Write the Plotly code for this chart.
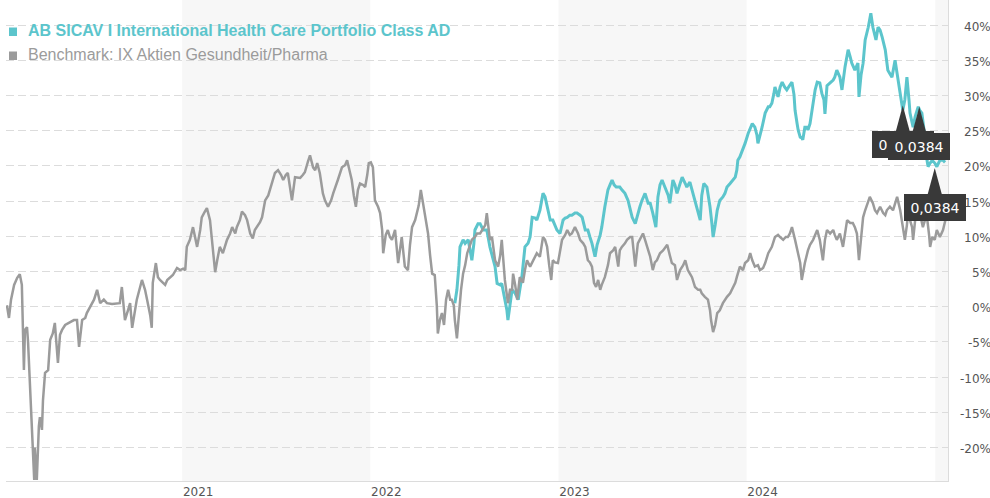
import pandas as pd
import plotly.graph_objects as go

# ---------------- data ----------------
ORIGIN = "2020-01-01"          # day numbers below count from this date

FUND_NAME = "AB SICAV I International Health Care Portfolio Class AD"
BENCH_NAME = "Benchmark: IX Aktien Gesundheit/Pharma"

bench_days = [
    26, 30, 34, 40, 46, 51, 55, 57, 59, 61,
    65, 67, 69, 73, 77, 79, 80, 84, 88, 90,
    94, 96, 100, 106, 110, 115, 119, 125, 129, 133,
    139, 148, 156, 162, 166, 172, 178, 181, 187, 195,
    201, 207, 214, 220, 230, 240, 245, 249, 255, 261,
    265, 269, 275, 278, 288, 294, 298, 304, 307, 309,
    315, 319, 323, 329, 333, 337, 342, 348, 356, 362,
    368, 372, 375, 381, 387, 395, 401, 404, 410, 414,
    420, 424, 428, 430, 434, 439, 445, 453, 459, 463,
    469, 472, 478, 482, 488, 492, 498, 503, 507, 511,
    517, 521, 527, 533, 536, 542, 546, 552, 558, 562,
    567, 571, 579, 585, 591, 595, 600, 604, 610, 614,
    620, 624, 628, 633, 639, 643, 649, 655, 659, 664,
    668, 676, 682, 686, 692, 695, 699, 703, 707, 711,
    717, 721, 725, 728, 732, 736, 740, 746, 750, 754,
    756, 761, 765, 769, 773, 779, 785, 789, 792, 798,
    804, 808, 812, 818, 822, 825, 829, 833, 837, 843,
    847, 851, 856, 860, 862, 866, 870, 874, 878, 882,
    886, 889, 893, 895, 899, 903, 907, 911, 915, 919,
    924, 928, 934, 938, 944, 948, 954, 957, 963, 967,
    973, 979, 983, 986, 992, 998, 1002, 1006, 1008, 1012,
    1016, 1021, 1027, 1031, 1035, 1041, 1047, 1054, 1060, 1066,
    1070, 1074, 1078, 1082, 1085, 1089, 1095, 1099, 1103, 1109,
    1113, 1118, 1122, 1128, 1134, 1138, 1144, 1148, 1153, 1157,
    1161, 1165, 1169, 1173, 1177, 1180, 1186, 1192, 1196, 1202,
    1206, 1212, 1215, 1219, 1225, 1229, 1235, 1239, 1245, 1250,
    1256, 1260, 1264, 1268, 1274, 1279, 1283, 1287, 1293, 1299,
    1307, 1312, 1316, 1322, 1326, 1332, 1338, 1342, 1347, 1351,
    1355, 1361, 1367, 1371, 1374, 1380, 1386, 1390, 1392, 1396,
    1400, 1404, 1409, 1415, 1419, 1423, 1429, 1435, 1439, 1442,
    1448, 1454, 1458, 1464, 1468, 1472, 1477, 1483, 1487, 1493,
    1497, 1503, 1510, 1516, 1522, 1526, 1532, 1537, 1541, 1545,
    1549, 1555, 1561, 1565, 1568, 1574, 1580, 1584, 1590, 1594,
    1598, 1603, 1609, 1613, 1617, 1623, 1629, 1632, 1636, 1642,
    1648, 1652, 1656, 1662, 1667, 1671, 1675, 1679, 1683, 1687,
    1691, 1695, 1700, 1706, 1710, 1714, 1720, 1726, 1730, 1733,
    1739, 1745, 1749, 1753, 1759, 1764, 1768, 1772, 1774, 1778,
    1782, 1784, 1788, 1792, 1797, 1803, 1807, 1811, 1815, 1817,
    1821, 1826, 1830, 1836, 1842, 1848,
]
bench_pct = [
    0.2, -1.6, 1.0, 3.1, 4.1, 4.6, 3.1, -2.0, -9.0, -3.3,
    -2.9, -5.0, -8.6, -15.1, -20.4, -24.6, -20.0, -24.6, -17.0, -15.7,
    -17.5, -13.3, -9.4, -9.0, -4.7, -3.8, -2.3, -8.0, -4.0, -3.3,
    -2.6, -2.2, -1.9, -1.9, -5.7, -1.9, -1.6, -0.9, 0.0, 1.0,
    2.4, 0.5, 1.0, 0.5, 0.4, 0.5, 0.5, 2.8, -1.9, -0.5,
    0.5, -3.0, -0.5, 1.0, 3.8, 2.4, 1.0, -1.2, -3.0, 3.4,
    6.2, 4.2, 3.8, 3.4, 3.1, 3.8, 4.1, 4.5, 5.5, 5.2,
    5.4, 5.2, 8.5, 9.5, 11.3, 8.5, 10.9, 12.7, 13.5, 14.0,
    12.3, 9.5, 6.3, 4.9, 6.6, 8.5, 7.6, 9.5, 10.4, 11.3,
    10.4, 11.3, 12.3, 13.5, 13.0, 12.3, 10.4, 9.7, 10.9, 11.3,
    12.0, 12.7, 15.1, 15.8, 16.6, 18.0, 19.0, 19.4, 18.7, 18.0,
    18.7, 19.0, 15.1, 18.4, 18.3, 18.3, 18.7, 19.1, 20.6, 21.5,
    19.8, 19.4, 20.4, 19.0, 16.1, 15.1, 14.2, 15.1, 16.1, 17.3,
    18.0, 19.8, 20.1, 20.8, 19.1, 18.0, 15.8, 14.2, 16.6, 17.5,
    17.3, 17.0, 18.7, 20.4, 20.5, 19.8, 15.1, 14.2, 13.3, 10.9,
    7.6, 10.2, 10.9, 9.9, 9.5, 10.9, 6.2, 8.8, 9.9, 5.7,
    5.2, 8.8, 11.3, 12.3, 13.3, 14.4, 16.6, 14.7, 13.3, 10.4,
    7.3, 4.7, 4.5, 0.2, -3.8, -1.9, -0.9, -2.6, 1.0, 2.4,
    1.0, 1.0, 0.2, -1.9, -4.5, -0.5, 2.4, 4.7, 5.9, 7.6,
    8.8, 9.5, 9.9, 10.4, 10.4, 10.9, 11.6, 13.3, 9.5, 9.9,
    6.6, 5.7, 7.3, 9.5, 3.8, 0.5, 2.4, 2.4, 4.7, 3.1,
    1.0, 4.2, 3.4, 5.2, 6.6, 5.7, 6.6, 7.6, 7.1, 9.9,
    9.5, 8.5, 5.9, 3.8, 6.6, 6.3, 6.2, 8.0, 9.5, 10.2,
    10.9, 10.2, 10.4, 11.3, 10.4, 9.5, 9.0, 8.5, 6.6, 6.3,
    5.7, 3.4, 2.8, 3.8, 2.4, 3.1, 4.2, 5.9, 7.6, 8.0,
    8.5, 5.7, 8.0, 8.5, 9.0, 9.5, 9.9, 9.9, 5.7, 9.0,
    9.9, 10.4, 9.5, 8.5, 7.1, 5.2, 6.3, 6.6, 7.6, 8.0,
    8.8, 7.3, 6.2, 5.9, 3.8, 5.2, 5.9, 6.6, 5.2, 4.7,
    4.2, 2.8, 2.4, 2.4, 1.9, 1.4, 1.0, -0.5, -1.9, -3.6,
    -2.6, -0.9, -0.5, 0.5, 1.0, 1.4, 1.9, 2.8, 3.4, 4.2,
    5.7, 5.2, 6.2, 6.6, 7.6, 6.6, 5.7, 5.9, 5.2, 5.5,
    6.2, 7.6, 8.5, 9.9, 10.2, 9.9, 9.5, 9.9, 9.9, 10.4,
    11.3, 9.5, 7.6, 6.2, 3.8, 6.2, 8.0, 8.8, 9.5, 10.2,
    10.9, 9.5, 6.6, 9.5, 10.9, 10.4, 10.9, 10.2, 9.5, 10.4,
    8.5, 10.4, 12.3, 11.9, 11.9, 11.3, 10.4, 6.6, 10.2, 12.7,
    13.7, 14.7, 15.6, 14.7, 13.7, 13.3, 14.2, 13.3, 13.0, 13.7,
    14.2, 13.7, 14.7, 15.6, 13.7, 11.3, 9.5, 11.6, 13.3, 12.3,
    11.3, 9.5, 12.3, 15.1, 13.3, 11.3, 12.3, 12.7, 10.2, 8.5,
    9.9, 9.5, 10.9, 9.9, 10.9, 12.7,
]

fund_days = [
    895, 899, 903, 905, 911, 915, 921, 924, 928, 932,
    934, 940, 944, 950, 954, 957, 963, 969, 973, 977,
    983, 986, 992, 996, 998, 1002, 1006, 1012, 1018, 1021,
    1025, 1031, 1037, 1041, 1045, 1051, 1054, 1060, 1064, 1066,
    1070, 1074, 1080, 1085, 1089, 1093, 1099, 1105, 1109, 1113,
    1118, 1122, 1128, 1132, 1138, 1142, 1148, 1153, 1157, 1161,
    1167, 1171, 1177, 1180, 1186, 1192, 1196, 1200, 1204, 1208,
    1212, 1215, 1219, 1225, 1231, 1235, 1239, 1245, 1250, 1254,
    1258, 1264, 1270, 1274, 1279, 1285, 1289, 1293, 1297, 1303,
    1309, 1312, 1318, 1322, 1326, 1332, 1336, 1342, 1345, 1351,
    1355, 1361, 1365, 1371, 1374, 1378, 1384, 1390, 1394, 1396,
    1400, 1404, 1409, 1415, 1419, 1423, 1429, 1435, 1439, 1442,
    1444, 1448, 1454, 1458, 1464, 1468, 1472, 1477, 1481, 1483,
    1487, 1491, 1497, 1503, 1506, 1510, 1514, 1516, 1520, 1522,
    1526, 1530, 1535, 1539, 1545, 1549, 1553, 1555, 1559, 1561,
    1565, 1568, 1570, 1574, 1578, 1580, 1584, 1588, 1590, 1594,
    1598, 1603, 1607, 1611, 1613, 1617, 1623, 1629, 1632, 1636,
    1642, 1646, 1652, 1658, 1662, 1665, 1671, 1677, 1679, 1683,
    1687, 1691, 1697, 1700, 1702, 1706, 1710, 1712, 1716, 1720,
    1724, 1730, 1735, 1739, 1743, 1749, 1753, 1759, 1762, 1764,
    1768, 1772, 1776, 1778, 1784, 1788, 1794, 1797, 1801, 1807,
    1811, 1813, 1817, 1821, 1826, 1830, 1836, 1842, 1846,
]
fund_pct = [
    0.5, 2.4, 5.9, 8.5, 9.5, 9.0, 9.5, 8.0, 6.6, 9.0,
    10.9, 11.8, 11.8, 10.9, 10.9, 10.9, 8.5, 6.6, 5.7, 3.3,
    3.1, 3.3, 1.0, -0.5, -1.9, 0.2, 2.4, 1.9, 1.0, 2.4,
    4.2, 8.5, 9.0, 9.9, 12.7, 12.6, 12.3, 13.7, 15.1, 16.1,
    15.6, 14.2, 12.3, 12.3, 11.6, 10.9, 10.4, 12.3, 12.6, 12.7,
    13.0, 13.0, 13.3, 13.3, 13.0, 12.7, 10.9, 10.9, 9.9, 9.0,
    7.1, 8.8, 10.2, 11.3, 14.2, 16.6, 17.3, 18.0, 17.3, 17.0,
    17.0, 17.0, 16.6, 16.1, 15.1, 13.7, 12.7, 11.8, 13.3, 14.2,
    15.1, 16.1, 14.7, 14.7, 13.3, 11.3, 15.6, 17.3, 18.0, 17.0,
    15.8, 14.7, 18.0, 17.3, 16.1, 17.5, 18.4, 17.5, 17.0, 17.7,
    16.6, 15.1, 14.2, 12.3, 15.8, 17.5, 17.0, 14.2, 11.6, 9.9,
    11.6, 13.7, 15.1, 15.6, 16.1, 17.0, 17.5, 18.0, 18.4, 19.4,
    20.8, 21.3, 22.3, 23.2, 24.6, 25.3, 26.0, 25.5, 24.4, 23.2,
    24.6, 25.5, 27.5, 28.4, 28.4, 28.9, 30.3, 31.2, 30.3, 29.8,
    31.2, 31.9, 31.2, 30.8, 31.5, 31.9, 30.1, 27.9, 26.0, 25.1,
    24.1, 24.0, 23.7, 25.5, 25.5, 25.1, 26.0, 27.9, 28.9, 30.8,
    31.9, 31.8, 30.3, 29.4, 27.4, 31.4, 31.8, 32.2, 32.6, 33.6,
    32.6, 30.8, 34.1, 36.5, 35.5, 34.6, 33.6, 34.6, 29.8, 32.9,
    34.6, 37.9, 39.7, 41.2, 41.7, 39.7, 38.3, 37.9, 39.7, 39.3,
    38.3, 36.5, 33.6, 33.1, 32.6, 35.0, 33.1, 30.2, 28.9, 27.9,
    29.4, 32.6, 29.4, 27.5, 25.5, 27.0, 28.4, 27.9, 27.5, 24.1,
    20.8, 19.9, 20.4, 20.8, 20.4, 19.9, 20.8, 20.8, 20.5,
]

# tooltip boxes visible in the reference
tip_days = [1764, 1796, 1826]
tip_pct = [28.6, 28.4, 19.7]
tip_text = ["0,0384", "0,0384", "0,0384"]

year_ticks = ["2021", "2022", "2023", "2024"]
shaded_years = [2021, 2023, 2025]
y_ticks = [-20, -15, -10, -5, 0, 5, 10, 15, 20, 25, 30, 35, 40]

# ---------------- styling ----------------
TEAL = "#5cc5cc"
GRAY = "#9b9b9b"
TXT = "#555555"
GRID = "#dcdcdc"
TIP_BG = "#393939"


def to_dates(days):
    base = pd.Timestamp(ORIGIN)
    return [base + pd.Timedelta(days=int(d)) for d in days]


fund_dates = to_dates(fund_days)
bench_dates = to_dates(bench_days)
tip_dates = to_dates(tip_days)

fig = go.Figure()
fig.add_trace(go.Scatter(
    x=fund_dates, y=fund_pct, mode="lines", name=FUND_NAME,
    line=dict(color=TEAL, width=3), showlegend=False,
))
fig.add_trace(go.Scatter(
    x=bench_dates, y=bench_pct, mode="lines", name=BENCH_NAME,
    line=dict(color=GRAY, width=2.5), showlegend=False,
))

shapes = []
for yr in shaded_years:
    shapes.append(dict(
        type="rect", xref="x", yref="paper",
        x0=f"{yr}-01-01", x1=f"{yr + 1}-01-01", y0=0, y1=1,
        fillcolor="#f7f7f7", line=dict(width=0), layer="below",
    ))

# legend squares
for off, col in [(36, TEAL), (60, GRAY)]:
    shapes.append(dict(
        type="rect", xref="paper", yref="paper",
        xsizemode="pixel", ysizemode="pixel", xanchor=0, yanchor=1,
        x0=3, x1=11, y0=-off, y1=-off + 8.5,
        fillcolor=col, line=dict(width=0), layer="above",
    ))

# tooltip pointers
for d, v in zip(tip_dates, tip_pct):
    shapes.append(dict(
        type="path", xref="x", yref="y",
        xsizemode="pixel", ysizemode="pixel", xanchor=d, yanchor=v,
        path="M0,0 L-7,-26 L7,-26 Z",
        fillcolor=TIP_BG, line=dict(width=0), layer="above",
    ))

annotations = []
# legend texts
annotations.append(dict(
    xref="paper", yref="paper", x=0, y=1, xanchor="left", yanchor="middle",
    xshift=20, yshift=-30, showarrow=False, text=f"<b>{FUND_NAME}</b>",
    font=dict(family="Liberation Sans, Arial", size=16, color=TEAL),
))
annotations.append(dict(
    xref="paper", yref="paper", x=0, y=1, xanchor="left", yanchor="middle",
    xshift=20, yshift=-54, showarrow=False, text=BENCH_NAME,
    font=dict(family="Liberation Sans, Arial", size=16, color=GRAY),
))
# right-aligned y tick labels
for t in y_ticks:
    annotations.append(dict(
        xref="paper", yref="y", x=1, y=t, xanchor="right", yanchor="middle",
        xshift=44, yshift=-1.5, showarrow=False, text=f"{t}%", borderpad=0,
        font=dict(family="DejaVu Sans", size=12, color=TXT),
    ))
# tooltip boxes
for d, v, txt in zip(tip_dates, tip_pct, tip_text):
    annotations.append(dict(
        xref="x", yref="y", x=d, y=v, xanchor="center", yanchor="top",
        yshift=-26, showarrow=False, text=txt, width=62, height=27,
        bgcolor=TIP_BG, borderpad=0, borderwidth=0,
        font=dict(family="DejaVu Sans", size=14, color="white"),
    ))

fig.update_layout(
    width=990, height=498,
    margin=dict(l=6, r=42, t=0, b=17),
    paper_bgcolor="white", plot_bgcolor="white",
    showlegend=False,
    shapes=shapes, annotations=annotations,
    xaxis=dict(
        type="date",
        range=["2020-01-25 06:00", "2025-01-25 17:00"],
        tickvals=[f"{y}-01-01" for y in year_ticks],
        ticktext=year_ticks,
        ticklabelshift=16,
        tickfont=dict(family="DejaVu Sans", size=12, color=TXT),
        showgrid=False, zeroline=False, ticks="",
        showline=True, linecolor=GRID, linewidth=1,
    ),
    yaxis=dict(
        side="right", range=[-24.76, 43.57],
        tickvals=y_ticks, showticklabels=False, ticks="",
        showgrid=True, gridcolor=GRID, gridwidth=1, griddash="8px,4px",
        zeroline=False,
        showline=True, linecolor=GRID, linewidth=1,
    ),
)

fig.write_html(
    "out.html",
    config={"displayModeBar": False},
    post_script="document.body.style.margin='0';document.body.style.padding='0';",
)
